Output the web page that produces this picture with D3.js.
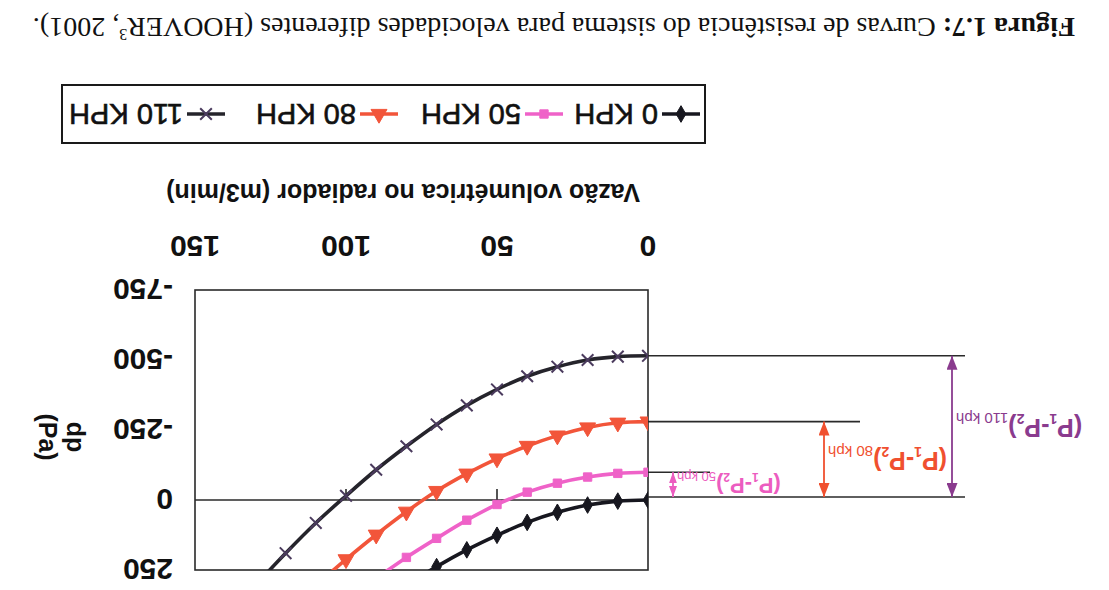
<!DOCTYPE html>
<html>
<head>
<meta charset="utf-8">
<script src="https://cdn.jsdelivr.net/npm/d3@7"></script>
<style>
  body { margin: 0; background: #fff; }
  text { font-family: "Liberation Sans", Arial, sans-serif; }
</style>
</head>
<body>
<div id="chart"></div>
<script>
const flow = [0, 10, 20, 30, 40, 50, 60, 70, 80, 90, 100, 110, 120, 130];
const seriesNames = ["0 KPH", "50 KPH", "80 KPH", "110 KPH"];
const dp0kph = [0, 4, 18, 44, 80, 126, 178, 238, 305];
const dp50kph = [-99, -95, -82, -60, -28, 16, 72, 137, 205, 280];
const dp80kph = [-280, -276, -259, -230, -193, -148, -94, -32, 42, 124, 212, 305];
const dp110kph = [-515, -512, -500, -476, -442, -395, -338, -270, -192, -108, -15, 82, 190, 305];
const xTicks = [0, 50, 100, 150];
const yTicks = [250, 0, -250, -500, -750];
const bracketLabels = ["50 kph", "80 kph", "110 kph"];

const seriesValues = [dp0kph, dp50kph, dp80kph, dp110kph];
const lineColors = ["#17171f", "#ef62c8", "#f2553a", "#25242b"];
const markColors = ["#17171f", "#ef62c8", "#f2553a", "#4b3b5e"];
const symbols = [d3.symbolDiamond, d3.symbolSquare, d3.symbolTriangle, d3.symbolTimes || d3.symbolX];
const symSizes = [80, 70, 110, 90];

const width = 1109, height = 590;
const svg = d3.select("#chart").append("svg").attr("width", width).attr("height", height);

// the whole figure was scanned upside down
const g = svg.append("g").attr("transform", `rotate(180 ${width / 2} ${height / 2})`);

const x = d3.scaleLinear().domain([0, 150]).range([461, 914]);
const y = d3.scaleLinear().domain([-750, 250]).range([300, 20]);

g.append("clipPath").attr("id", "plot-clip")
  .append("rect")
  .attr("x", x(0)).attr("y", y(250))
  .attr("width", x(150) - x(0)).attr("height", y(-750) - y(250));

// plot frame + zero line
g.append("rect")
  .attr("x", x(0)).attr("y", y(250))
  .attr("width", x(150) - x(0)).attr("height", y(-750) - y(250))
  .attr("fill", "none").attr("stroke", "#2a2a2a").attr("stroke-width", 1.6);

g.append("line")
  .attr("x1", x(0)).attr("x2", x(150)).attr("y1", y(0)).attr("y2", y(0))
  .attr("stroke", "#2a2a2a").attr("stroke-width", 1.6);

g.selectAll(".xtick")
  .data(xTicks.filter(d => d > 0 && d < 150))
  .enter().append("line")
  .attr("x1", d => x(d)).attr("x2", d => x(d))
  .attr("y1", y(0)).attr("y2", y(0) + 11)
  .attr("stroke", "#2a2a2a").attr("stroke-width", 1.6);

// tick labels
g.selectAll(".xlab")
  .data(xTicks)
  .enter().append("text")
  .attr("x", d => x(d)).attr("y", 354)
  .attr("text-anchor", "middle")
  .attr("font-size", 30).attr("font-weight", "bold")
  .attr("fill", "#111")
  .text(d => d);

g.selectAll(".ylab")
  .data(yTicks)
  .enter().append("text")
  .attr("x", 936).attr("y", d => y(d))
  .attr("dy", "0.36em")
  .attr("font-size", 30).attr("font-weight", "bold")
  .attr("fill", "#111")
  .text(d => d);

g.append("text")
  .attr("x", 706).attr("y", 406)
  .attr("text-anchor", "middle")
  .attr("font-size", 25).attr("font-weight", "bold")
  .attr("fill", "#111")
  .text("Vazão volumétrica no radiador (m3/min)");

const yTitle = g.append("text")
  .attr("transform", "translate(1042,153) rotate(-90)")
  .attr("text-anchor", "middle")
  .attr("font-size", 25).attr("font-weight", "bold")
  .attr("fill", "#111");
yTitle.append("tspan").attr("x", 0).attr("y", 0).text("dp");
yTitle.append("tspan").attr("x", 0).attr("y", 28).text("(Pa)");

// curves
const line = d3.line()
  .x((d, i) => x(flow[i]))
  .y(d => y(d))
  .curve(d3.curveCatmullRom);

const curves = g.append("g").attr("clip-path", "url(#plot-clip)");

seriesValues.forEach((vals, s) => {
  curves.append("path")
    .datum(vals)
    .attr("d", line)
    .attr("fill", "none")
    .attr("stroke", lineColors[s])
    .attr("stroke-width", 3.6);

  const isStroke = s === 3;
  curves.selectAll(".m" + s)
    .data(vals)
    .enter().append("path")
    .attr("transform", (d, i) => `translate(${x(flow[i])},${y(d)})`)
    .attr("d", d3.symbol().type(symbols[s]).size(symSizes[s]))
    .attr("fill", isStroke ? "none" : markColors[s])
    .attr("stroke", markColors[s])
    .attr("stroke-width", isStroke ? 2 : 1);
});

// brackets on the left: (P1-P2) for each speed, measured from the 0 KPH start
const base = dp0kph[0];
const brackets = [
  { val: dp50kph[0], lineEnd: 399, arrowX: 436, color: "#ec5cc0", size: 22, head: 8 },
  { val: dp80kph[0], lineEnd: 249, arrowX: 285, color: "#f0502f", size: 25, head: 11 },
  { val: dp110kph[0], lineEnd: 144, arrowX: 157, color: "#8a3b8e", size: 25, head: 11 }
];

g.append("line")
  .attr("x1", x(0)).attr("x2", 144).attr("y1", y(base) + 3).attr("y2", y(base) + 3)
  .attr("stroke", "#2a2a2a").attr("stroke-width", 1.6);

const defs = g.append("defs");
brackets.forEach((b, i) => {
  defs.append("marker")
    .attr("id", "ah" + i)
    .attr("viewBox", "0 0 10 10")
    .attr("refX", 10).attr("refY", 5)
    .attr("markerUnits", "userSpaceOnUse")
    .attr("markerWidth", b.head + 3).attr("markerHeight", b.head)
    .attr("orient", "auto-start-reverse")
    .attr("preserveAspectRatio", "none")
    .append("path").attr("d", "M0,0L10,5L0,10Z").attr("fill", b.color);

  g.append("line")
    .attr("x1", x(0)).attr("x2", b.lineEnd).attr("y1", y(b.val)).attr("y2", y(b.val))
    .attr("stroke", "#2a2a2a").attr("stroke-width", 1.6);

  g.append("line")
    .attr("x1", b.arrowX).attr("x2", b.arrowX)
    .attr("y1", y(base) + 3).attr("y2", y(b.val))
    .attr("stroke", b.color).attr("stroke-width", 1.8)
    .attr("marker-start", `url(#ah${i})`)
    .attr("marker-end", `url(#ah${i})`);

  const mid = (y(base) + 3 + y(b.val)) / 2;
  const t = g.append("text")
    .attr("x", b.arrowX - 4).attr("y", mid + b.size * 0.3)
    .attr("text-anchor", "end")
    .attr("font-size", b.size).attr("font-weight", "bold")
    .attr("fill", b.color);
  const sub = Math.round(b.size * 0.55);
  t.append("tspan").text("(P");
  t.append("tspan").attr("font-size", sub).attr("dy", 5).text("1");
  t.append("tspan").attr("dy", -5).text("-P");
  t.append("tspan").attr("font-size", sub).attr("dy", 5).text("2");
  t.append("tspan").attr("dy", -5).text(")");
  t.append("tspan").attr("font-size", sub + 1).attr("font-weight", "normal").attr("dy", 6).text(bracketLabels[i]);
});

// legend
const legend = g.append("g").attr("transform", "translate(404,447)");
legend.append("rect")
  .attr("width", 643).attr("height", 58)
  .attr("fill", "#fff").attr("stroke", "#1a1a1a").attr("stroke-width", 2);

const legendX = [5, 142, 307, 480];
seriesNames.forEach((name, s) => {
  const row = legend.append("g").attr("transform", `translate(${legendX[s]},29)`);
  row.append("line").attr("x1", 0).attr("x2", 38)
    .attr("stroke", lineColors[s]).attr("stroke-width", 3.5);
  row.append("path")
    .attr("transform", "translate(19,0)")
    .attr("d", d3.symbol().type(symbols[s]).size(symSizes[s]))
    .attr("fill", s === 3 ? "none" : markColors[s])
    .attr("stroke", markColors[s])
    .attr("stroke-width", s === 3 ? 2 : 1);
  row.append("text")
    .attr("x", 42).attr("y", 0).attr("dy", "0.36em")
    .attr("font-size", 29).attr("fill", "#111")
    .attr("stroke", "#111").attr("stroke-width", 0.6)
    .text(name);
});

// caption
const cap = g.append("text")
  .attr("x", 34).attr("y", 572)
  .attr("font-size", 28)
  .attr("fill", "#111")
  .style("font-family", "'Liberation Serif', 'Times New Roman', serif");
cap.append("tspan").attr("font-weight", "bold").text("Figura 1.7:");
cap.append("tspan").text(" Curvas de resistência do sistema para velocidades diferentes (HOOVER");
cap.append("tspan").attr("font-size", 16).attr("dy", -11).text("3");
cap.append("tspan").attr("dy", 11).text(", 2001).");
</script>
</body>
</html>
